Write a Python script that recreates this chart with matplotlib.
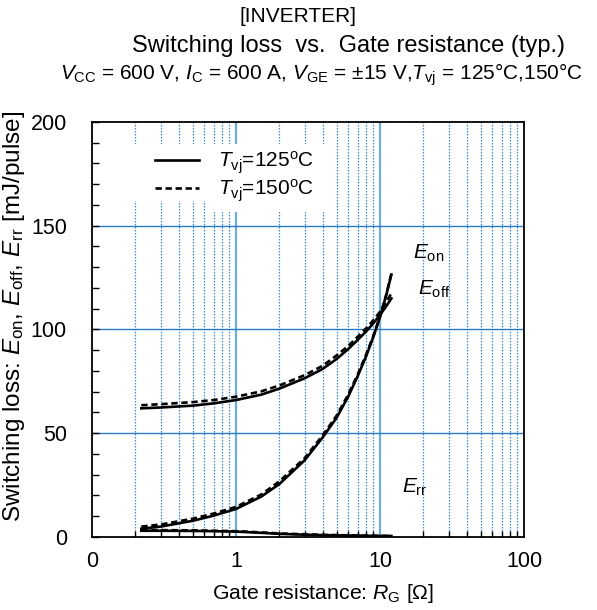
import matplotlib
matplotlib.use("Agg")
import matplotlib.pyplot as plt
from matplotlib.patches import Rectangle
from matplotlib.ticker import FixedLocator, FixedFormatter, NullFormatter

plt.rcParams['font.family'] = ['Liberation Sans', 'DejaVu Sans']
plt.rcParams['mathtext.fontset'] = 'custom'
plt.rcParams['mathtext.rm'] = 'Liberation Sans'
plt.rcParams['mathtext.it'] = 'Liberation Sans:italic'
plt.rcParams['mathtext.bf'] = 'Liberation Sans:bold'

# ---- data ----
rg = [0.22, 0.3, 0.5, 0.7, 1, 1.5, 2, 3, 4, 5, 6, 7, 8, 9, 10, 11, 12]
eon_125 = [4.0, 5.0, 7.8, 10.3, 13.5, 19.5, 25.5, 37, 48, 57.5, 67.5, 77.5, 87, 96.5, 106, 116, 126.5]
eon_150 = [5.0, 6.0, 8.8, 11.3, 14.5, 20.5, 26.8, 38, 49, 58.5, 68.5, 78.3, 87.8, 97, 106.3, 116.3, 127]
eoff_125 = [62, 62.4, 63.3, 64.4, 66, 68.6, 71.5, 76.5, 81, 85.8, 90.5, 95, 99, 103, 107, 111, 115]
eoff_150 = [63.5, 64, 65, 66, 67.6, 70.2, 73, 78, 82.5, 87.5, 92, 96.5, 100.5, 104.5, 108.5, 113, 117.5]
err_125 = [3.0, 3.0, 2.9, 2.8, 2.6, 2.0, 1.5, 1.1, 0.9, 0.8, 0.7, 0.65, 0.6, 0.55, 0.5, 0.5, 0.5]
err_150 = [3.3, 3.3, 3.2, 3.0, 2.8, 2.2, 1.7, 1.3, 1.0, 0.9, 0.8, 0.7, 0.65, 0.6, 0.55, 0.5, 0.5]

x_ticks = [0.1, 1, 10, 100]
x_tick_labels = ["0", "1", "10", "100"]
y_ticks = [0, 50, 100, 150, 200]
legend_labels = [r"$T_{\mathrm{vj}}$=125$^{\mathrm{o}}$C", r"$T_{\mathrm{vj}}$=150$^{\mathrm{o}}$C"]

fig = plt.figure(figsize=(5.97, 6.10), dpi=100)
ax = fig.add_axes([0.1541, 0.1197, 0.7236, 0.6803])
ax.set_xscale('log')
ax.set_xlim(0.1, 100)
ax.set_ylim(0, 200)

# grid
minor_x = [m * d for d in (0.1, 1, 10) for m in range(2, 10)]
for xv in minor_x:
    ax.axvline(xv, color='#3a8ad6', lw=0.9, ls=(0, (1.2, 1.2)), zorder=1)
for xv in [1, 10]:
    ax.axvline(xv, color='#6aaee0', lw=1.6, zorder=1)
for yv in [50, 100, 150]:
    ax.axhline(yv, color='#2a7cc8', lw=1.0, zorder=1)

# white legend background
ax.add_patch(Rectangle((0.076, 0.810), 0.474, 0.136, transform=ax.transAxes,
                       facecolor='white', edgecolor='none', zorder=2))
ax.add_patch(Rectangle((0.270, 0.783), 0.280, 0.10, transform=ax.transAxes,
                       facecolor='white', edgecolor='none', zorder=2))

lw = 1.9
dash = (0, (2.4, 1.4))
l1, = ax.plot(rg, eon_125, color='black', lw=lw, zorder=3)
l2, = ax.plot(rg, eon_150, color='black', lw=lw, ls=dash, zorder=3)
ax.plot(rg, eoff_125, color='black', lw=lw, zorder=3)
ax.plot(rg, eoff_150, color='black', lw=lw, ls=dash, zorder=3)
ax.plot(rg, err_125, color='black', lw=lw, zorder=3)
ax.plot(rg, err_150, color='black', lw=lw, ls=dash, zorder=3)

leg = ax.legend([l1, l2], legend_labels, loc='upper left', bbox_to_anchor=(0.146, 0.933),
                frameon=False, fontsize=15, handlelength=2.1, handletextpad=0.9,
                labelspacing=0.05, borderpad=0, borderaxespad=0)
leg.set_zorder(4)

# annotations
ax.text(16.9, 134, r"$E_{\mathrm{on}}$", fontsize=15, ha='left', va='baseline', zorder=4)
ax.text(18.3, 117, r"$E_{\mathrm{off}}$", fontsize=15, ha='left', va='baseline', zorder=4)
ax.text(14.3, 21.2, r"$E_{\mathrm{rr}}$", fontsize=15, ha='left', va='baseline', zorder=4)

# ticks
ax.xaxis.set_major_locator(FixedLocator(x_ticks))
ax.xaxis.set_major_formatter(FixedFormatter(x_tick_labels))
ax.xaxis.set_minor_locator(FixedLocator(minor_x))
ax.xaxis.set_minor_formatter(NullFormatter())
ax.set_yticks(y_ticks)
ax.set_yticks(list(range(0, 201, 10)), minor=True)
ax.tick_params(axis='both', which='both', direction='in', labelsize=15.5, top=False, right=False)
ax.tick_params(axis='x', which='major', length=0, pad=10)
ax.tick_params(axis='x', which='minor', length=4, width=1)
ax.tick_params(axis='y', which='major', length=5, width=1, pad=18)
ax.tick_params(axis='y', which='minor', length=5, width=1)
for s in ax.spines.values():
    s.set_linewidth(1.3)
    s.set_zorder(5)

ax.set_xlabel(r"Gate resistance: $R_{\mathrm{G}}$ [Ω]", fontsize=15.3)
ax.xaxis.set_label_coords(0.535, -0.108)
ax.set_ylabel(r"Switching loss: $E_{\mathrm{on}}$, $E_{\mathrm{off}}$, $E_{\mathrm{rr}}$ [mJ/pulse]",
              fontsize=17.5)
ax.yaxis.set_label_coords(-0.150, 0.532)

fig.text(0.499, 0.973, "[INVERTER]", fontsize=15, ha='center', va='center')
fig.text(0.583, 0.925, "Switching loss  vs.  Gate resistance (typ.)", fontsize=17, ha='center', va='center')
fig.text(0.538, 0.877,
         r"$V_{\mathrm{CC}}$ = 600 V, $I_{\mathrm{C}}$ = 600 A, $V_{\mathrm{GE}}$ = ±15 V,$T_{\mathrm{vj}}$ = 125°C,150°C",
         fontsize=15, ha='center', va='center')

fig.savefig("out.png", dpi=100)
